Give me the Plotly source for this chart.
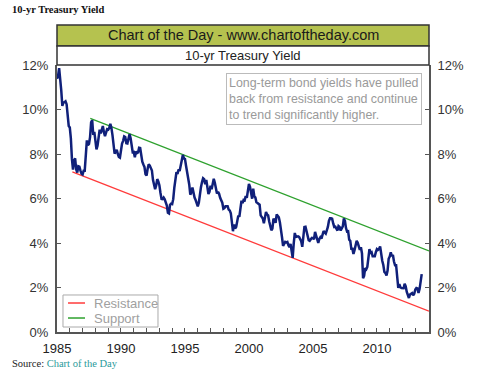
import plotly.graph_objects as go

# Monthly 10-yr Treasury yield (%), Jan 1985 .. Jul 2013
years = list(range(1985, 2014))
yields_by_year = [
    [11.38, 11.51, 11.86, 11.43, 10.85, 10.16, 10.31, 10.33, 10.37, 10.24, 9.78, 9.26],
    [9.19, 8.70, 7.78, 7.30, 7.71, 7.80, 7.30, 7.17, 7.45, 7.43, 7.25, 7.11],
    [7.08, 7.25, 7.25, 8.02, 8.61, 8.40, 8.45, 8.76, 9.42, 9.52, 8.86, 8.99],
    [8.67, 8.21, 8.37, 8.72, 9.09, 8.92, 9.06, 9.26, 8.98, 8.80, 8.96, 9.11],
    [9.09, 9.17, 9.36, 9.18, 8.86, 8.28, 8.02, 8.11, 8.19, 8.01, 7.87, 7.84],
    [8.21, 8.47, 8.59, 8.79, 8.76, 8.48, 8.47, 8.75, 8.89, 8.72, 8.39, 8.08],
    [8.09, 7.85, 8.11, 8.04, 8.07, 8.28, 8.27, 7.90, 7.65, 7.53, 7.42, 7.09],
    [7.03, 7.34, 7.54, 7.48, 7.39, 7.26, 6.84, 6.59, 6.42, 6.59, 6.87, 6.77],
    [6.60, 6.26, 5.98, 5.97, 6.04, 5.96, 5.81, 5.68, 5.36, 5.33, 5.72, 5.77],
    [5.75, 5.97, 6.48, 6.97, 7.18, 7.10, 7.30, 7.24, 7.46, 7.74, 7.96, 7.81],
    [7.78, 7.47, 7.20, 7.06, 6.63, 6.17, 6.28, 6.49, 6.20, 6.04, 5.93, 5.71],
    [5.65, 5.81, 6.27, 6.51, 6.74, 6.91, 6.87, 6.64, 6.83, 6.53, 6.20, 6.30],
    [6.58, 6.42, 6.69, 6.89, 6.71, 6.49, 6.22, 6.30, 6.21, 6.03, 5.88, 5.81],
    [5.54, 5.57, 5.65, 5.64, 5.65, 5.50, 5.46, 5.34, 4.81, 4.53, 4.83, 4.65],
    [4.72, 5.00, 5.23, 5.18, 5.54, 5.90, 5.79, 5.94, 5.92, 6.11, 6.03, 6.28],
    [6.66, 6.52, 6.26, 5.99, 6.44, 6.10, 6.05, 5.83, 5.80, 5.74, 5.72, 5.24],
    [5.16, 5.10, 4.89, 5.14, 5.39, 5.28, 5.24, 4.97, 4.73, 4.57, 4.65, 5.09],
    [5.04, 4.91, 5.28, 5.21, 5.16, 4.93, 4.65, 4.26, 3.87, 3.94, 4.05, 4.03],
    [4.05, 3.90, 3.81, 3.96, 3.57, 3.33, 3.98, 4.45, 4.27, 4.29, 4.30, 4.27],
    [4.15, 4.08, 3.83, 4.35, 4.72, 4.73, 4.50, 4.28, 4.13, 4.10, 4.19, 4.23],
    [4.22, 4.17, 4.50, 4.34, 4.14, 4.00, 4.18, 4.26, 4.20, 4.46, 4.54, 4.47],
    [4.42, 4.57, 4.72, 4.99, 5.11, 5.11, 5.09, 4.88, 4.72, 4.73, 4.60, 4.56],
    [4.76, 4.72, 4.56, 4.69, 4.75, 5.10, 5.00, 4.67, 4.52, 4.53, 4.15, 4.10],
    [3.74, 3.74, 3.51, 3.68, 3.88, 4.10, 4.01, 3.89, 3.69, 3.81, 3.53, 2.42],
    [2.52, 2.87, 2.82, 2.93, 3.29, 3.72, 3.56, 3.59, 3.40, 3.39, 3.40, 3.59],
    [3.73, 3.69, 3.73, 3.85, 3.42, 3.20, 3.01, 2.70, 2.65, 2.54, 2.76, 3.29],
    [3.39, 3.58, 3.41, 3.46, 3.17, 3.00, 3.00, 2.30, 1.98, 2.15, 2.01, 1.98],
    [1.97, 1.97, 2.17, 2.05, 1.80, 1.62, 1.53, 1.68, 1.72, 1.75, 1.65, 1.72],
    [1.91, 1.98, 1.96, 1.76, 1.93, 2.30, 2.60],
]

# Trend lines (decimal year, yield %)
resistance_x = [1986.2, 2014.07]
resistance_y = [7.2, 0.94]
support_x = [1987.6, 2014.07]
support_y = [9.6, 3.64]

x_tick_vals = [1985, 1990, 1995, 2000, 2005, 2010]
y_tick_vals = [0, 2, 4, 6, 8, 10, 12]
y_tick_text = ["0%", "2%", "4%", "6%", "8%", "10%", "12%"]

RES_COLOR = "#ff3b3b"
SUP_COLOR = "#2ea12e"

xs, ys = [], []
for yr, vals in zip(years, yields_by_year):
    for m, v in enumerate(vals):
        xs.append(yr + m / 12.0)
        ys.append(v)

FONT = "Arial, Liberation Sans, sans-serif"
SERIF = "Liberation Serif, DejaVu Serif, serif"
fig = go.Figure()
fig.add_trace(go.Scatter(x=resistance_x, y=resistance_y, mode="lines", name="Resistance",
                         showlegend=False, line=dict(color=RES_COLOR, width=1.3)))
fig.add_trace(go.Scatter(x=support_x, y=support_y, mode="lines", name="Support",
                         showlegend=False, line=dict(color=SUP_COLOR, width=1.3)))
fig.add_trace(go.Scatter(x=xs, y=ys, mode="lines", showlegend=False, name="10-yr",
                         line=dict(color="#10207a", width=2.5)))
# invisible trace for right axis
fig.add_trace(go.Scatter(x=[1985], y=[0], yaxis="y2", mode="markers",
                         marker=dict(opacity=0), showlegend=False, hoverinfo="skip"))

fig.update_layout(
    width=480, height=370,
    margin=dict(l=57, r=51, t=65, b=38),
    paper_bgcolor="white", plot_bgcolor="white",
    font=dict(family=FONT, size=12, color="#333"),
    showlegend=False,
    xaxis=dict(range=[1985, 2014.07], tickvals=x_tick_vals, ticks="inside",
               ticklen=4, tickcolor="#555", showgrid=False, zeroline=False,
               showline=True, linecolor="#555", linewidth=2, ticklabelstandoff=3,
               tickfont=dict(size=13, color="#222"),
               minor=dict(dtick=1, ticks="inside", ticklen=4, tickcolor="#555")),
    yaxis=dict(range=[0, 12], tickvals=y_tick_vals, ticktext=y_tick_text,
               ticks="inside", ticklen=4, tickcolor="#555", showgrid=False,
               zeroline=False, showline=True, linecolor="#555", linewidth=2,
               ticklabelstandoff=4, tickfont=dict(size=13, color="#333")),
    yaxis2=dict(range=[0, 12], tickvals=y_tick_vals, ticktext=y_tick_text,
                overlaying="y", side="right", ticks="inside", ticklen=4,
                tickcolor="#555", showgrid=False, zeroline=False, showline=True,
                linecolor="#555", linewidth=2, ticklabelstandoff=4,
                tickfont=dict(size=13, color="#333")),
)

# Header bars
fig.add_shape(type="rect", xref="paper", yref="paper", x0=0, x1=1, y0=1.0712, y1=1.1498,
              fillcolor="#b5c24f", line=dict(color="#333", width=1.5), layer="above")
fig.add_shape(type="rect", xref="paper", yref="paper", x0=0, x1=1, y0=1.0, y1=1.0712,
              fillcolor="white", line=dict(color="#333", width=1.5), layer="above")
fig.add_annotation(xref="paper", yref="paper", x=0.5, y=1.1105, text="Chart of the Day - www.chartoftheday.com",
                   showarrow=False, font=dict(size=14.5, color="#1a1a1a", family=FONT),
                   xanchor="center", yanchor="middle")
fig.add_annotation(xref="paper", yref="paper", x=0.5, y=1.036, text="10-yr Treasury Yield",
                   showarrow=False, font=dict(size=13, color="#222", family=FONT),
                   xanchor="center", yanchor="middle")

# Legend box (drawn)
fig.add_shape(type="rect", xref="paper", yref="paper", x0=0.0161, x1=0.2715, y0=0.0187, y1=0.1386,
              fillcolor="white", line=dict(color="#aaaaaa", width=1), layer="above")
for name, color, ly in [("Resistance", RES_COLOR, 0.1086), ("Support", SUP_COLOR, 0.0524)]:
    fig.add_shape(type="line", xref="paper", yref="paper", x0=0.0296, x1=0.0753, y0=ly, y1=ly,
                  line=dict(color=color, width=1.5), layer="above")
    fig.add_annotation(xref="paper", yref="paper", x=0.094, y=ly, text=name, showarrow=False,
                       xanchor="left", yanchor="middle",
                       font=dict(size=13, color="#a0a0a0", family=FONT))

# Comment box
fig.add_annotation(xref="paper", yref="paper", x=0.718, y=0.97,
                   text="Long-term bond yields have pulled<br>back from resistance and continue<br>to trend significantly higher.",
                   showarrow=False, align="left", xanchor="center", yanchor="top",
                   font=dict(size=12.4, color="#9a9a9a", family=FONT),
                   bordercolor="#bbbbbb", borderwidth=1, borderpad=2, bgcolor="white")

# Page title and source
fig.add_annotation(xref="paper", yref="paper", x=-0.127, y=1.206,
                   text="<b>10-yr Treasury Yield</b>", showarrow=False,
                   xanchor="left", yanchor="middle",
                   font=dict(size=10.5, color="#111", family=SERIF))
fig.add_annotation(xref="paper", yref="paper", x=-0.127, y=-0.118,
                   text="Source: <span style='color:#2a9a9a'>Chart of the Day</span>",
                   showarrow=False, xanchor="left", yanchor="middle",
                   font=dict(size=10.5, color="#222", family=SERIF))

fig.write_html("out.html", config={"displayModeBar": False},
               post_script="document.body.style.margin='0';document.body.style.overflow='hidden';")
